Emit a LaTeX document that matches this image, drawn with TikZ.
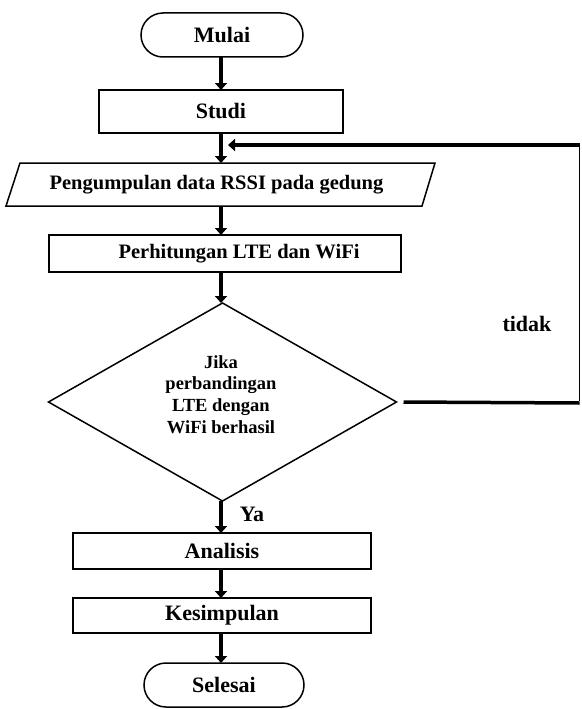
\documentclass[tikz,border=0pt]{standalone}
\usepackage{fontspec}
\setmainfont{Liberation Serif}
\usetikzlibrary{arrows.meta,shapes.misc,shapes.geometric}
\begin{document}
\begin{tikzpicture}[x=1pt,y=-1pt,
  font=\fontsize{22}{26}\selectfont\bfseries,
  boxline/.style={draw=black,line width=1.5pt},
  proc/.style={boxline,rectangle,inner sep=0pt,outer sep=0pt},
  term/.style={boxline,rounded rectangle,inner sep=0pt,outer sep=0pt},
  arr/.style={line width=4pt,-{Triangle[width=12pt,length=7pt]}},
  fbthick/.style={line width=3.5pt},
  fbthin/.style={line width=1.2pt},
  smallfont/.style={font=\fontsize{20.5}{24}\selectfont\bfseries},
  diafont/.style={font=\fontsize{18.5}{21.7}\selectfont\bfseries}]
\useasboundingbox (0,0) rectangle (581,709);

\node[term,minimum width=162pt,minimum height=44pt] (mulai) at (222,35) {Mulai};
\node[proc,minimum width=244pt,minimum height=43pt] (studi) at (221,111.5) {Studi};
\node[inner sep=0pt,outer sep=0pt,minimum height=43pt,smallfont] (kumpul) at (221,184.5) {\hspace*{-9pt}Pengumpulan data RSSI pada gedung};
\draw[boxline] (20,163) -- (435,163) -- (422,206) -- (6,206) -- cycle;
\node[proc,minimum width=352pt,minimum height=37pt,smallfont] (perhit) at (225,253.5) {\hspace*{28pt}Perhitungan LTE dan WiFi};
\node[boxline,diamond,inner sep=0pt,outer sep=0pt,minimum width=348pt,minimum height=198pt] (dia) at (222.5,402) {};
\node[diafont,align=center,inner sep=0pt] (diatext) at (221,394.5) {Jika\\perbandingan\\LTE dengan\\WiFi berhasil};
\node[proc,minimum width=298pt,minimum height=36pt] (analisis) at (222,551) {Analisis};
\node[proc,minimum width=298pt,minimum height=35pt] (kesimpulan) at (222,615.5) {Kesimpulan};
\node[term,minimum width=160pt,minimum height=44pt] (selesai) at (224,685) {Selesai};

\node (ya) at (252,514) {Ya};
\node (tidak) at (527,324) {tidak};

\draw[arr] (studi.north |- mulai.south) -- (studi.north);
\draw[arr] (studi.south) -- (kumpul.north);
\draw[arr] (kumpul.south) -- (kumpul.south |- perhit.north);
\draw[arr] (kumpul.south |- perhit.south) -- (kumpul.south |- dia.north);
\draw[arr] (kumpul.south |- dia.south) -- (kumpul.south |- analisis.north);
\draw[arr] (kumpul.south |- analisis.south) -- (kumpul.south |- kesimpulan.north);
\draw[arr] (kumpul.south |- kesimpulan.south) -- (kumpul.south |- selesai.north);

\coordinate (fb1) at (579.5,403);
\coordinate (fb2) at (579.5,145);
\coordinate (join) at (228,145);
\draw[fbthick] ([xshift=7pt]dia.east) -- (fb1);
\draw[fbthin] ([yshift=1.75pt]fb1) -- ([yshift=-1.75pt]fb2);
\draw[arr,line width=3.5pt] (fb2) -- (join);
\end{tikzpicture}
\end{document}
